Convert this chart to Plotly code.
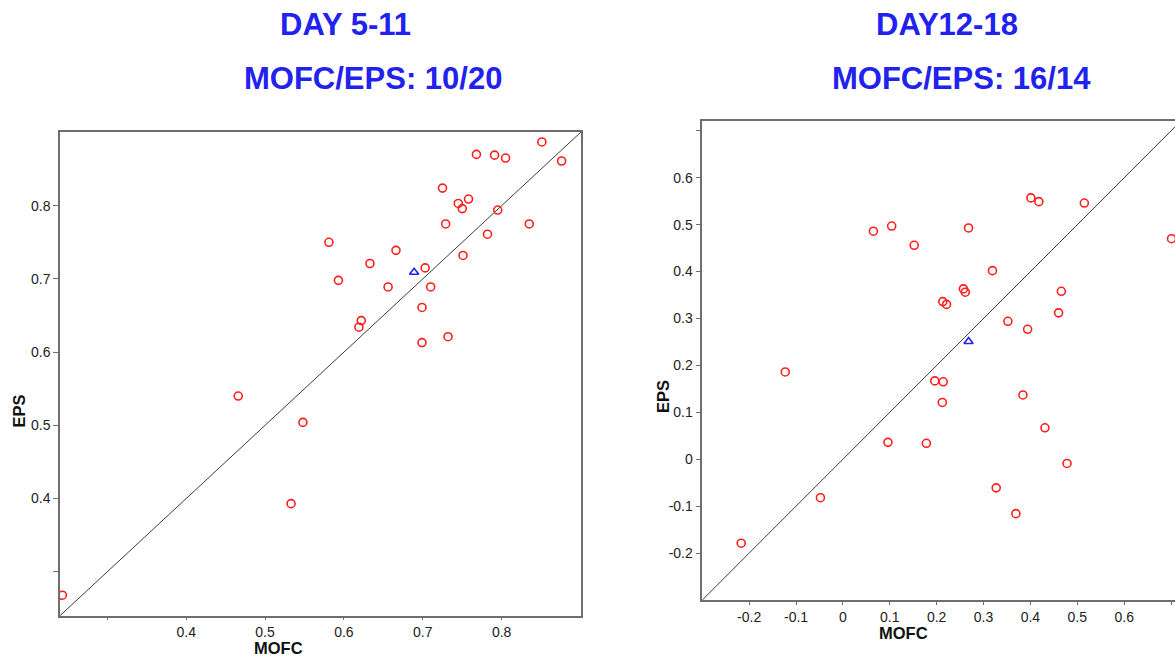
import plotly.graph_objects as go

# Period 1: DAY 5-11
p1_mofc = [0.851, 0.768, 0.791, 0.805, 0.876, 0.725, 0.745, 0.758, 0.750, 0.795,
           0.729, 0.835, 0.782, 0.581, 0.666, 0.633, 0.751, 0.703, 0.593, 0.656,
           0.710, 0.699, 0.622, 0.619, 0.732, 0.699, 0.466, 0.533, 0.243, 0.548]
p1_eps = [0.887, 0.870, 0.869, 0.865, 0.861, 0.824, 0.803, 0.809, 0.796, 0.794,
          0.775, 0.775, 0.761, 0.750, 0.739, 0.721, 0.732, 0.715, 0.698, 0.689,
          0.689, 0.661, 0.643, 0.634, 0.621, 0.613, 0.540, 0.393, 0.268, 0.504]
p1_mean = (0.689, 0.709)

# Period 2: DAY12-18
p2_mofc = [0.065, 0.104, -0.123, 0.401, 0.418, 0.515, 0.152, 0.268, 0.701, 0.319,
           0.257, 0.261, 0.213, 0.221, 0.466, 0.460, 0.352, 0.394, 0.196, 0.214,
           0.384, 0.212, 0.431, 0.096, 0.178, 0.478, 0.327, 0.369, -0.048, -0.217]
p2_eps = [0.486, 0.497, 0.186, 0.557, 0.549, 0.546, 0.456, 0.493, 0.470, 0.402,
          0.363, 0.356, 0.336, 0.330, 0.358, 0.312, 0.294, 0.277, 0.167, 0.165,
          0.137, 0.121, 0.067, 0.036, 0.034, -0.009, -0.061, -0.116, -0.082, -0.179]
p2_mean = (0.268, 0.251)

p1_range = [0.24, 0.9006]
p2_xrange = [-0.3, 0.7084]
p2_yrange = [-0.3, 0.7209]

p1_ticks = [0.3, 0.4, 0.5, 0.6, 0.7, 0.8]
p1_xlabels = ["", "0.4", "0.5", "0.6", "0.7", "0.8"]
p1_ylabels = ["", "0.4", "0.5", "0.6", "0.7", "0.8"]
p2_ticks = [-0.2, -0.1, 0, 0.1, 0.2, 0.3, 0.4, 0.5, 0.6, 0.7]
p2_labels = ["-0.2", "-0.1", "0", "0.1", "0.2", "0.3", "0.4", "0.5", "0.6", ""]

titles = [("DAY 5-11", "MOFC/EPS: 10/20"), ("DAY12-18", "MOFC/EPS: 16/14")]

W, H = 1175, 657
FONT = "Liberation Sans, Arial, sans-serif"
RED = "#FF1E1E"
BLUE = "#2222EE"
AXIS = "#6E6E6E"

fig = go.Figure()


def add_panel(xs, ys, mean, lo, hi, xa, ya):
    # y = x reference line
    fig.add_trace(go.Scatter(x=[lo, hi], y=[lo, hi], mode="lines",
                             line=dict(color="#3C3C3C", width=1),
                             xaxis=xa, yaxis=ya, hoverinfo="skip"))
    fig.add_trace(go.Scatter(x=xs, y=ys, mode="markers",
                             marker=dict(symbol="circle-open", size=8, color=RED,
                                         line=dict(width=1.6, color=RED)),
                             xaxis=xa, yaxis=ya))
    fig.add_trace(go.Scatter(x=[mean[0]], y=[mean[1]], mode="markers",
                             marker=dict(symbol="triangle-up-open", size=8, color=BLUE,
                                         line=dict(width=1.6, color=BLUE)),
                             xaxis=xa, yaxis=ya))


add_panel(p1_mofc, p1_eps, p1_mean, -1, 2, "x", "y")
add_panel(p2_mofc, p2_eps, p2_mean, -1, 2, "x2", "y2")

tickfont = dict(family=FONT, size=14, color="#222222")
axis_common = dict(showgrid=False, zeroline=False, showline=True, linecolor=AXIS,
                   linewidth=1.5, ticks="outside", tickwidth=1,
                   tickcolor=AXIS, tickfont=tickfont)

fig.update_layout(
    width=W, height=H,
    margin=dict(l=0, r=0, t=0, b=0),
    paper_bgcolor="white", plot_bgcolor="white",
    showlegend=False,
    xaxis=dict(domain=[60 / W, 581 / W], range=p1_range, tickvals=p1_ticks,
               ticktext=p1_xlabels, mirror=True, anchor="y", ticklen=3, **axis_common),
    yaxis=dict(domain=[1 - 615.7 / H, 1 - 132 / H], range=p1_range, tickvals=p1_ticks,
               ticktext=p1_ylabels, mirror=True, anchor="x", ticklen=5, **axis_common),
    xaxis2=dict(domain=[702.3 / W, 1.0], range=p2_xrange, tickvals=p2_ticks,
                ticktext=p2_labels, mirror=True, anchor="y2", ticklen=3, **axis_common),
    yaxis2=dict(domain=[1 - 600 / H, 1 - 121 / H], range=p2_yrange, tickvals=p2_ticks,
                ticktext=p2_labels, mirror=False, anchor="x2", ticklen=5, **axis_common),
)


def px_note(text, x, y, size, color, angle=0):
    fig.add_annotation(text=text, x=x / W, y=1 - y / H, xref="paper", yref="paper",
                       xanchor="center", yanchor="middle", showarrow=False,
                       textangle=angle,
                       font=dict(family=FONT, size=size, color=color))


# Panel headings
px_note("<b>%s</b>" % titles[0][0], 345, 24, 31, BLUE)
px_note("<b>%s</b>" % titles[0][1], 372.5, 79, 31, BLUE)
px_note("<b>%s</b>" % titles[1][0], 946.7, 24, 31, BLUE)
px_note("<b>%s</b>" % titles[1][1], 961.7, 79, 31, BLUE)

# Axis titles
px_note("<b>EPS</b>", 18, 411.5, 16.5, "#111111", angle=-90)
px_note("<b>MOFC</b>", 278.5, 647.5, 16.5, "#111111")
px_note("<b>EPS</b>", 663, 396, 16.5, "#111111", angle=-90)
px_note("<b>MOFC</b>", 903.7, 632.5, 16.5, "#111111")

fig.write_html("out.html")
